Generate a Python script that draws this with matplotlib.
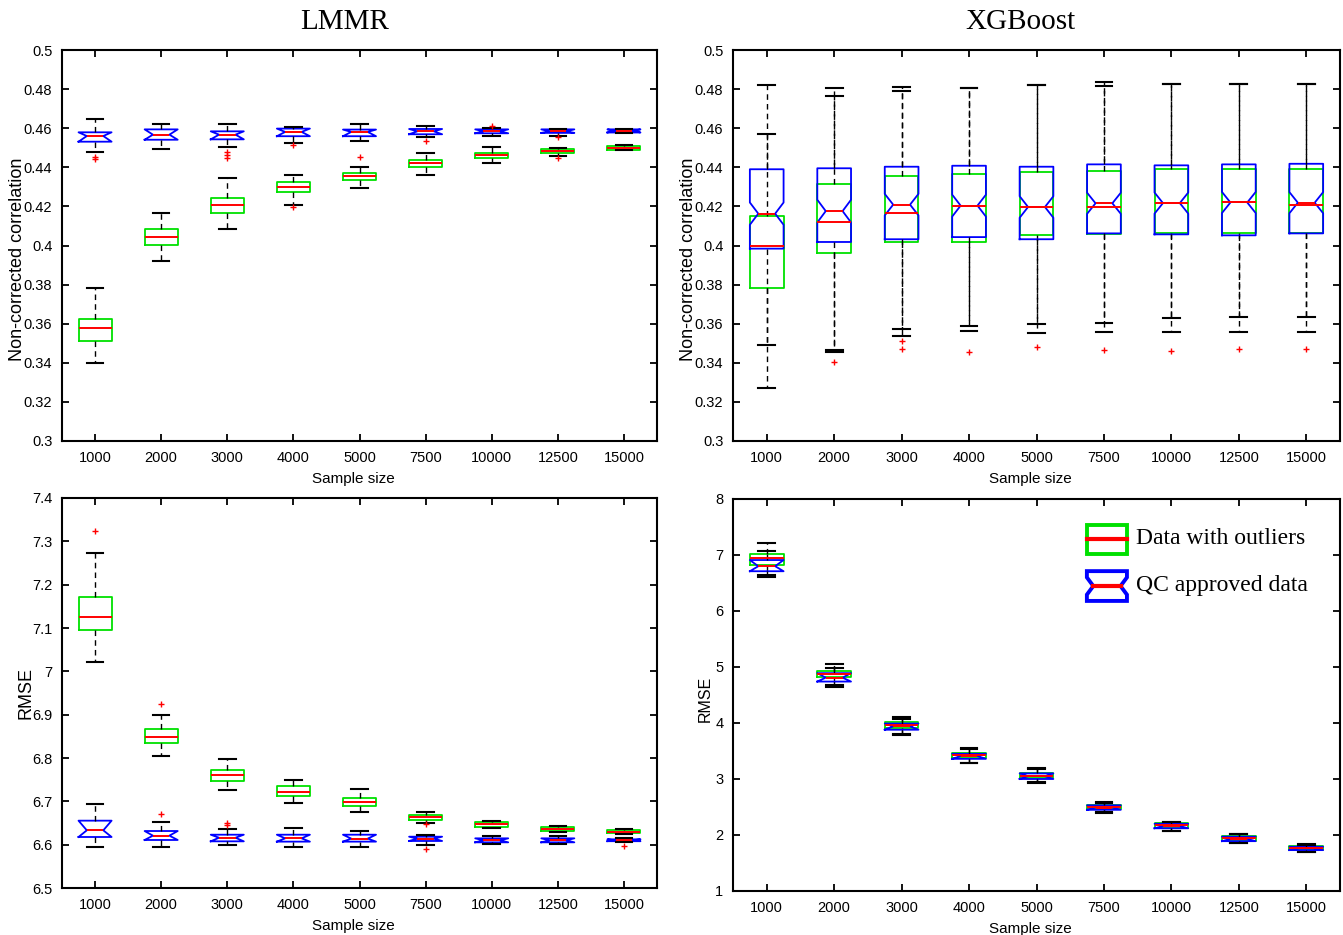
import matplotlib
matplotlib.use("Agg")
from matplotlib import pyplot as plt
from matplotlib.patches import Rectangle, Polygon
from matplotlib.lines import Line2D

plt.rcParams['font.family'] = ['Liberation Sans', 'DejaVu Sans']

sizes = ['1000', '2000', '3000', '4000', '5000', '7500', '10000', '12500', '15000']

# each row: (lower whisker, q1, median, q3, upper whisker)
lmmr_corr_raw = [
    (0.3397, 0.3512, 0.3576, 0.3622, 0.3781),
    (0.3921, 0.4004, 0.4045, 0.4083, 0.4168),
    (0.4083, 0.4168, 0.4209, 0.4245, 0.4345),
    (0.4206, 0.4274, 0.4299, 0.4326, 0.4361),
    (0.4294, 0.4335, 0.4355, 0.4369, 0.4403),
    (0.4361, 0.4403, 0.4424, 0.4437, 0.4472),
    (0.4424, 0.4449, 0.4461, 0.4475, 0.4502),
    (0.4458, 0.4472, 0.4482, 0.4494, 0.4497),
    (0.4487, 0.4490, 0.4500, 0.4509, 0.4513),
]
lmmr_corr_raw_out = [[], [], [], [0.4199], [0.4451], [], [], [0.4449], []]

lmmr_corr_qc = [
    (0.4480, 0.4531, 0.4560, 0.4579, 0.4645),
    (0.4492, 0.4541, 0.4567, 0.4594, 0.4621),
    (0.4504, 0.4543, 0.4567, 0.4584, 0.4623),
    (0.4524, 0.4559, 0.4581, 0.4598, 0.4608),
    (0.4533, 0.4559, 0.4581, 0.4593, 0.4623),
    (0.4557, 0.4569, 0.4584, 0.4596, 0.4611),
    (0.4562, 0.4574, 0.4584, 0.4594, 0.4603),
    (0.4562, 0.4576, 0.4584, 0.4594, 0.4598),
    (0.4576, 0.4578, 0.4586, 0.4594, 0.4598),
]
lmmr_corr_qc_out = [[0.4455, 0.4445], [], [0.4477, 0.4462, 0.4450], [0.4513], [],
                    [0.4536], [0.4611], [0.4553], []]

xgb_corr_raw = [
    (0.3273, 0.3781, 0.3997, 0.4152, 0.4821),
    (0.3457, 0.3960, 0.4122, 0.4315, 0.4804),
    (0.3539, 0.4018, 0.4168, 0.4355, 0.4812),
    (0.3563, 0.4018, 0.4204, 0.4367, 0.4807),
    (0.3551, 0.4052, 0.4197, 0.4378, 0.4819),
    (0.3557, 0.4057, 0.4199, 0.4383, 0.4817),
    (0.3557, 0.4065, 0.4217, 0.4390, 0.4824),
    (0.3557, 0.4062, 0.4224, 0.4392, 0.4824),
    (0.3557, 0.4062, 0.4209, 0.4390, 0.4824),
]
xgb_corr_raw_out = [[], [0.3406], [0.3513, 0.3471], [0.3454], [0.3479],
                    [0.3464], [0.3459], [0.3471], [0.3471]]

xgb_corr_qc = [
    (0.3491, 0.3984, 0.4163, 0.4390, 0.4570),
    (0.3465, 0.4018, 0.4176, 0.4395, 0.4765),
    (0.3575, 0.4032, 0.4209, 0.4403, 0.4792),
    (0.3590, 0.4043, 0.4204, 0.4408, 0.4807),
    (0.3597, 0.4032, 0.4197, 0.4403, 0.4819),
    (0.3605, 0.4062, 0.4216, 0.4415, 0.4835),
    (0.3629, 0.4057, 0.4217, 0.4410, 0.4827),
    (0.3634, 0.4052, 0.4220, 0.4415, 0.4824),
    (0.3634, 0.4062, 0.4219, 0.4418, 0.4824),
]
xgb_corr_qc_out = [[] for _ in sizes]
xgb_corr_qc_notch = [0.0057, 0.0058, 0.0055, 0.0056, 0.0055, 0.0054, 0.0054, 0.0054, 0.0054]

lmmr_rmse_raw = [
    (7.0223, 7.0946, 7.1246, 7.1723, 7.2730),
    (6.8046, 6.8338, 6.8492, 6.8677, 6.9000),
    (6.7269, 6.7477, 6.7608, 6.7723, 6.7977),
    (6.6954, 6.7115, 6.7215, 6.7354, 6.7500),
    (6.6762, 6.6900, 6.6985, 6.7070, 6.7277),
    (6.6508, 6.6569, 6.6631, 6.6685, 6.6754),
    (6.6380, 6.6415, 6.6469, 6.6515, 6.6538),
    (6.6285, 6.6315, 6.6362, 6.6400, 6.6438),
    (6.6238, 6.6262, 6.6300, 6.6331, 6.6360),
]
lmmr_rmse_raw_out = [[7.3246], [6.9254], [], [], [], [6.6470], [], [], []]

lmmr_rmse_qc = [
    (6.5938, 6.6177, 6.6331, 6.6554, 6.6938),
    (6.5938, 6.6108, 6.6208, 6.6315, 6.6523),
    (6.5992, 6.6077, 6.6160, 6.6230, 6.6369),
    (6.5954, 6.6070, 6.6146, 6.6230, 6.6377),
    (6.5954, 6.6070, 6.6140, 6.6230, 6.6308),
    (6.5992, 6.6085, 6.6138, 6.6184, 6.6231),
    (6.6015, 6.6054, 6.6100, 6.6146, 6.6208),
    (6.6015, 6.6054, 6.6100, 6.6146, 6.6200),
    (6.6054, 6.6080, 6.6100, 6.6123, 6.6146),
]
lmmr_rmse_qc_out = [[], [6.6715], [6.6490, 6.6450], [], [], [6.5910], [], [], [6.5977]]

xgb_rmse_raw = [
    (6.64, 6.83, 6.95, 7.02, 7.21),
    (4.65, 4.83, 4.87, 4.93, 5.05),
    (3.80, 3.91, 3.97, 4.02, 4.10),
    (3.28, 3.37, 3.42, 3.46, 3.56),
    (2.93, 3.01, 3.06, 3.11, 3.19),
    (2.40, 2.46, 2.50, 2.54, 2.59),
    (2.07, 2.13, 2.17, 2.21, 2.24),
    (1.85, 1.90, 1.94, 1.98, 2.02),
    (1.69, 1.73, 1.77, 1.80, 1.84),
]
xgb_rmse_qc = [
    (6.60, 6.71, 6.80, 6.91, 7.07),
    (4.67, 4.74, 4.81, 4.89, 4.99),
    (3.79, 3.88, 3.94, 3.99, 4.08),
    (3.29, 3.36, 3.41, 3.45, 3.54),
    (2.94, 3.00, 3.05, 3.10, 3.17),
    (2.41, 2.45, 2.49, 2.53, 2.58),
    (2.08, 2.12, 2.16, 2.20, 2.23),
    (1.86, 1.89, 1.93, 1.97, 2.01),
    (1.70, 1.73, 1.76, 1.79, 1.83),
]

corr_ticks = [0.3, 0.32, 0.34, 0.36, 0.38, 0.4, 0.42, 0.44, 0.46, 0.48, 0.5]
lmmr_rmse_ticks = [6.5, 6.6, 6.7, 6.8, 6.9, 7, 7.1, 7.2, 7.3, 7.4]
xgb_rmse_ticks = [1, 2, 3, 4, 5, 6, 7, 8]

GREEN = '#00e000'
BLUE = '#0000ff'
pos = list(range(1, len(sizes) + 1))


def boxes(ax, rows, outs, color, notch=None):
    stats = []
    for i, (lo, q1, med, q3, hi) in enumerate(rows):
        s = dict(whislo=lo, q1=q1, med=med, q3=q3, whishi=hi, fliers=outs[i])
        if notch is not None:
            if notch == 'full':
                s['cilo'], s['cihi'] = q1, q3
            else:
                s['cilo'], s['cihi'] = med - notch[i], med + notch[i]
        stats.append(s)
    ax.bxp(stats, pos, widths=0.5, shownotches=notch is not None,
           boxprops=dict(color=color, lw=1.3),
           medianprops=dict(color='red', lw=1.4),
           whiskerprops=dict(color='black', lw=1.0, ls=(0, (4, 3))),
           capprops=dict(color='black', lw=1.5),
           flierprops=dict(marker='+', markeredgecolor='red', markersize=4, ls='none'),
           manage_ticks=False)


def style(ax, yticks, ylabel, ylab_x, ylab_y, ylab_size=13):
    ax.set_xlim(0.5, len(sizes) + 0.5)
    ax.set_ylim(yticks[0], yticks[-1])
    ax.set_xticks(pos)
    ax.set_xticklabels(sizes)
    ax.set_yticks(yticks)
    ax.set_yticklabels(['%g' % t for t in yticks])
    ax.tick_params(direction='in', length=5, width=1.3, top=True, right=True,
                   labelsize=10.5, pad=7)
    for sp in ax.spines.values():
        sp.set_linewidth(1.5)
    ax.set_xlabel('Sample size', fontsize=11)
    ax.xaxis.set_label_coords(0.49, -0.08)
    ax.set_ylabel(ylabel, fontsize=ylab_size, va='center')
    ax.yaxis.set_label_coords(ylab_x, ylab_y)


fig = plt.figure(figsize=(13.43, 9.35), dpi=100)
W, H = 1343, 935
ax1 = fig.add_axes([62 / W, 1 - 441 / H, 595 / W, 391 / H])
ax2 = fig.add_axes([733 / W, 1 - 441 / H, 607 / W, 391 / H])
ax3 = fig.add_axes([62 / W, 1 - 888 / H, 595 / W, 390 / H])
ax4 = fig.add_axes([733 / W, 1 - 891 / H, 607 / W, 392 / H])

boxes(ax1, lmmr_corr_raw, lmmr_corr_raw_out, GREEN)
boxes(ax1, lmmr_corr_qc, lmmr_corr_qc_out, BLUE, 'full')
style(ax1, corr_ticks, 'Non-corrected correlation', -0.075, 0.465)

boxes(ax2, xgb_corr_raw, xgb_corr_raw_out, GREEN)
boxes(ax2, xgb_corr_qc, xgb_corr_qc_out, BLUE, xgb_corr_qc_notch)
style(ax2, corr_ticks, 'Non-corrected correlation', -0.073, 0.465)

boxes(ax3, lmmr_rmse_raw, lmmr_rmse_raw_out, GREEN)
boxes(ax3, lmmr_rmse_qc, lmmr_rmse_qc_out, BLUE, 'full')
style(ax3, lmmr_rmse_ticks, 'RMSE', -0.06, 0.5)

empty = [[] for _ in sizes]
boxes(ax4, xgb_rmse_raw, empty, GREEN)
boxes(ax4, xgb_rmse_qc, empty, BLUE, 'full')
style(ax4, xgb_rmse_ticks, 'RMSE', -0.045, 0.49, ylab_size=11.5)

fig.text(345 / W, 1 - 22 / H, 'LMMR', family='Liberation Serif', fontsize=21,
         ha='center', va='center')
fig.text(1020 / W, 1 - 22 / H, 'XGBoost', family='Liberation Serif', fontsize=21,
         ha='center', va='center')

# hand-made legend with box glyphs
tr = ax4.transAxes
x0, x1 = 0.583, 0.649
ax4.add_patch(Rectangle((x0, 0.860), x1 - x0, 0.074, transform=tr, fill=False,
                        edgecolor=GREEN, lw=2.8))
ax4.add_line(Line2D([x0, x1], [0.897, 0.897], transform=tr, color='red', lw=3))
yb, yt = 0.740, 0.816
ym = (yb + yt) / 2
ins = 0.16 * (x1 - x0)
dn = 0.022
ax4.add_patch(Polygon([(x0, yb), (x1, yb), (x1, ym - dn), (x1 - ins, ym), (x1, ym + dn),
                       (x1, yt), (x0, yt), (x0, ym + dn), (x0 + ins, ym), (x0, ym - dn)],
                      closed=True, transform=tr, fill=False, edgecolor=BLUE, lw=2.8))
ax4.add_line(Line2D([x0 + ins, x1 - ins], [ym, ym], transform=tr, color='red', lw=3))
ax4.text(0.664, 0.899, 'Data with outliers', transform=tr, family='Liberation Serif',
         fontsize=17, va='center')
ax4.text(0.664, 0.779, 'QC approved data', transform=tr, family='Liberation Serif',
         fontsize=17, va='center')

fig.savefig('out.png', dpi=100)
